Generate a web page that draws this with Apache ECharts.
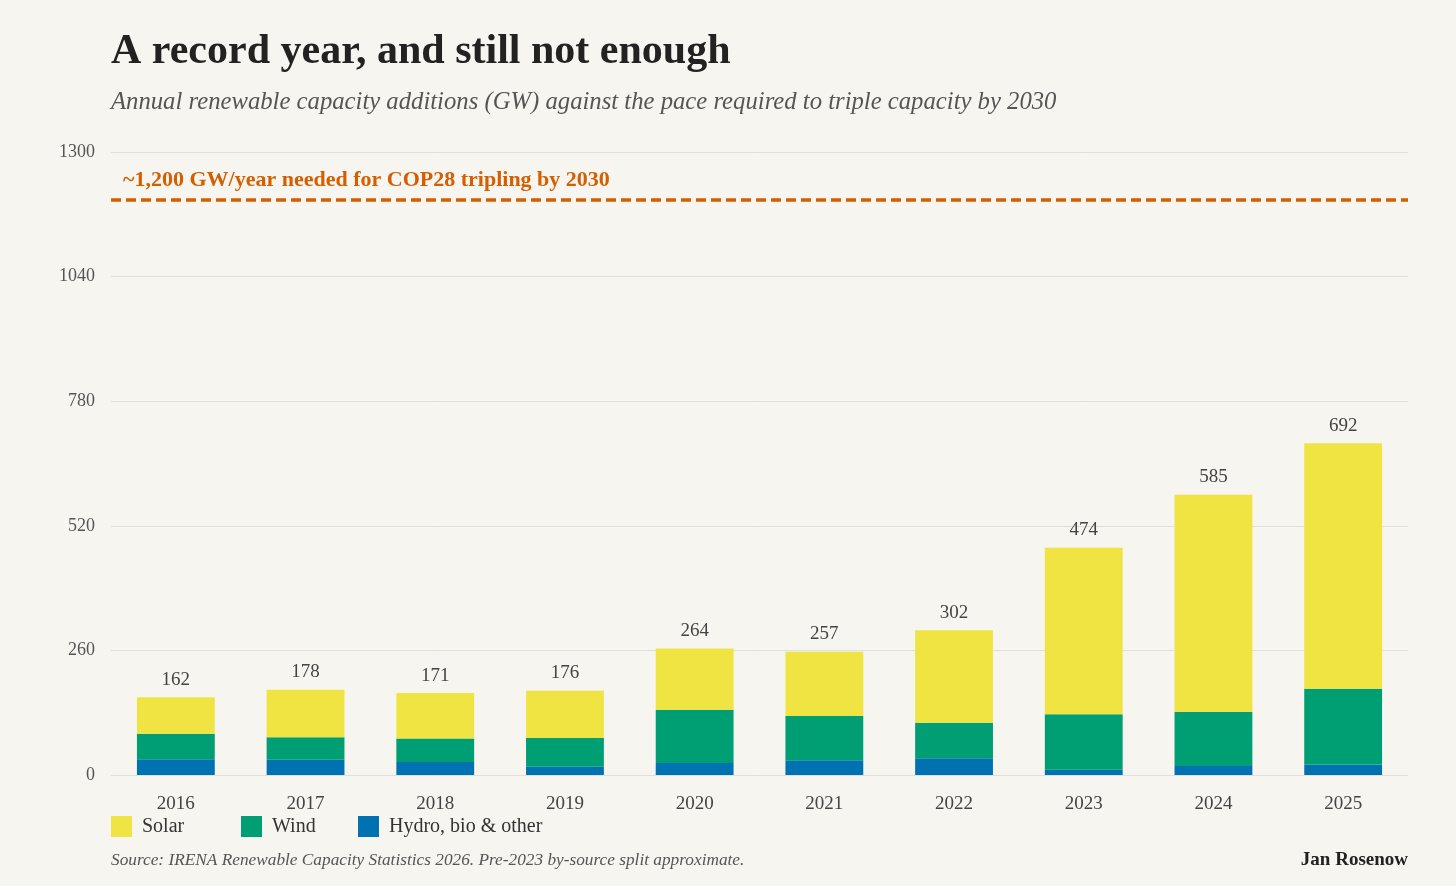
<!DOCTYPE html>
<html>
<head>
<meta charset="utf-8">
<title>A record year, and still not enough</title>
<script src="https://cdn.jsdelivr.net/npm/echarts@6/dist/echarts.min.js"></script>
<style>
  html, body { margin: 0; padding: 0; background: #f7f5f0; }
  #chart { width: 1456px; height: 886px; }
</style>
</head>
<body>
<div id="chart"></div>
<script>
const years = ['2016', '2017', '2018', '2019', '2020', '2021', '2022', '2023', '2024', '2025'];
const hydro = [33, 32, 27, 17, 25, 31, 35, 11, 19, 22];
const wind = [53, 47, 49, 60, 111, 92, 74, 116, 113, 158];
const solar = [76, 99, 95, 99, 128, 134, 193, 347, 453, 512];
const totals = [162, 178, 171, 176, 264, 257, 302, 474, 585, 692];
const yTicks = [0, 260, 520, 780, 1040, 1300];
const target = 1200;

const serif = '"Liberation Serif", "DejaVu Serif", serif';
const chart = echarts.init(document.getElementById('chart'));

// one legend per item so the spacing can follow the original
const legendItem = (name, left) => ({
  left: left,
  top: 811,
  itemWidth: 21,
  itemHeight: 21,
  icon: 'rect',
  textStyle: { fontFamily: serif, fontSize: 20, color: '#333', padding: [0, 0, 0, 5] },
  data: [name]
});

const option = {
  backgroundColor: '#f7f5f0',
  textStyle: { fontFamily: serif },
  title: [
    {
      text: 'A record year, and still not enough',
      left: 106,
      top: 26,
      textStyle: { fontFamily: serif, fontSize: 42, fontWeight: 'bold', color: '#222' }
    },
    {
      text: 'Annual renewable capacity additions (GW) against the pace required to triple capacity by 2030',
      left: 106,
      top: 85,
      textStyle: { fontFamily: serif, fontSize: 24.7, fontStyle: 'italic', fontWeight: 'normal', color: '#555' }
    },
    {
      text: 'Source: IRENA Renewable Capacity Statistics 2026. Pre-2023 by-source split approximate.',
      left: 106,
      top: 847,
      textStyle: { fontFamily: serif, fontSize: 17.3, fontStyle: 'italic', fontWeight: 'normal', color: '#555' }
    },
    {
      text: 'Jan Rosenow',
      right: 43,
      top: 846,
      textStyle: { fontFamily: serif, fontSize: 19, fontWeight: 'bold', color: '#222' }
    }
  ],
  legend: [
    legendItem('Solar', 106),
    legendItem('Wind', 236),
    legendItem('Hydro, bio & other', 353)
  ],
  grid: { left: 111, right: 48, top: 152, bottom: 111 },
  xAxis: {
    type: 'category',
    data: years,
    axisLine: { show: false },
    axisTick: { show: false },
    axisLabel: { fontFamily: serif, fontSize: 19, color: '#444', margin: 20 }
  },
  yAxis: {
    type: 'value',
    min: 0,
    max: 1300,
    interval: 260,
    axisLine: { show: false },
    axisTick: { show: false },
    axisLabel: {
      fontFamily: serif, fontSize: 18, color: '#555', margin: 16,
      formatter: v => (yTicks.includes(v) ? String(v) : '')
    },
    splitLine: { lineStyle: { color: '#e2dfd9', width: 1 } }
  },
  series: [
    {
      name: 'Hydro, bio & other',
      type: 'bar',
      stack: 'total',
      barWidth: '60%',
      itemStyle: { color: '#0072b2' },
      data: hydro,
      markLine: {
        silent: true,
        symbol: 'none',
        lineStyle: { color: '#d55e00', type: [10, 5], width: 3.5 },
        label: {
          show: true,
          position: 'insideStartTop',
          formatter: '~1,200 GW/year needed for COP28 tripling by 2030',
          fontFamily: serif,
          fontSize: 22,
          fontWeight: 'bold',
          color: '#d55e00',
          distance: [12, 9]
        },
        data: [{ yAxis: target }]
      }
    },
    {
      name: 'Wind',
      type: 'bar',
      stack: 'total',
      itemStyle: { color: '#009e73' },
      data: wind
    },
    {
      name: 'Solar',
      type: 'bar',
      stack: 'total',
      itemStyle: { color: '#f0e442' },
      data: solar,
      label: {
        show: true,
        position: 'top',
        distance: 8,
        fontFamily: serif,
        fontSize: 19,
        color: '#444',
        formatter: p => String(totals[p.dataIndex])
      }
    }
  ]
};

chart.setOption(option);
window.addEventListener('resize', chart.resize);
</script>
</body>
</html>
